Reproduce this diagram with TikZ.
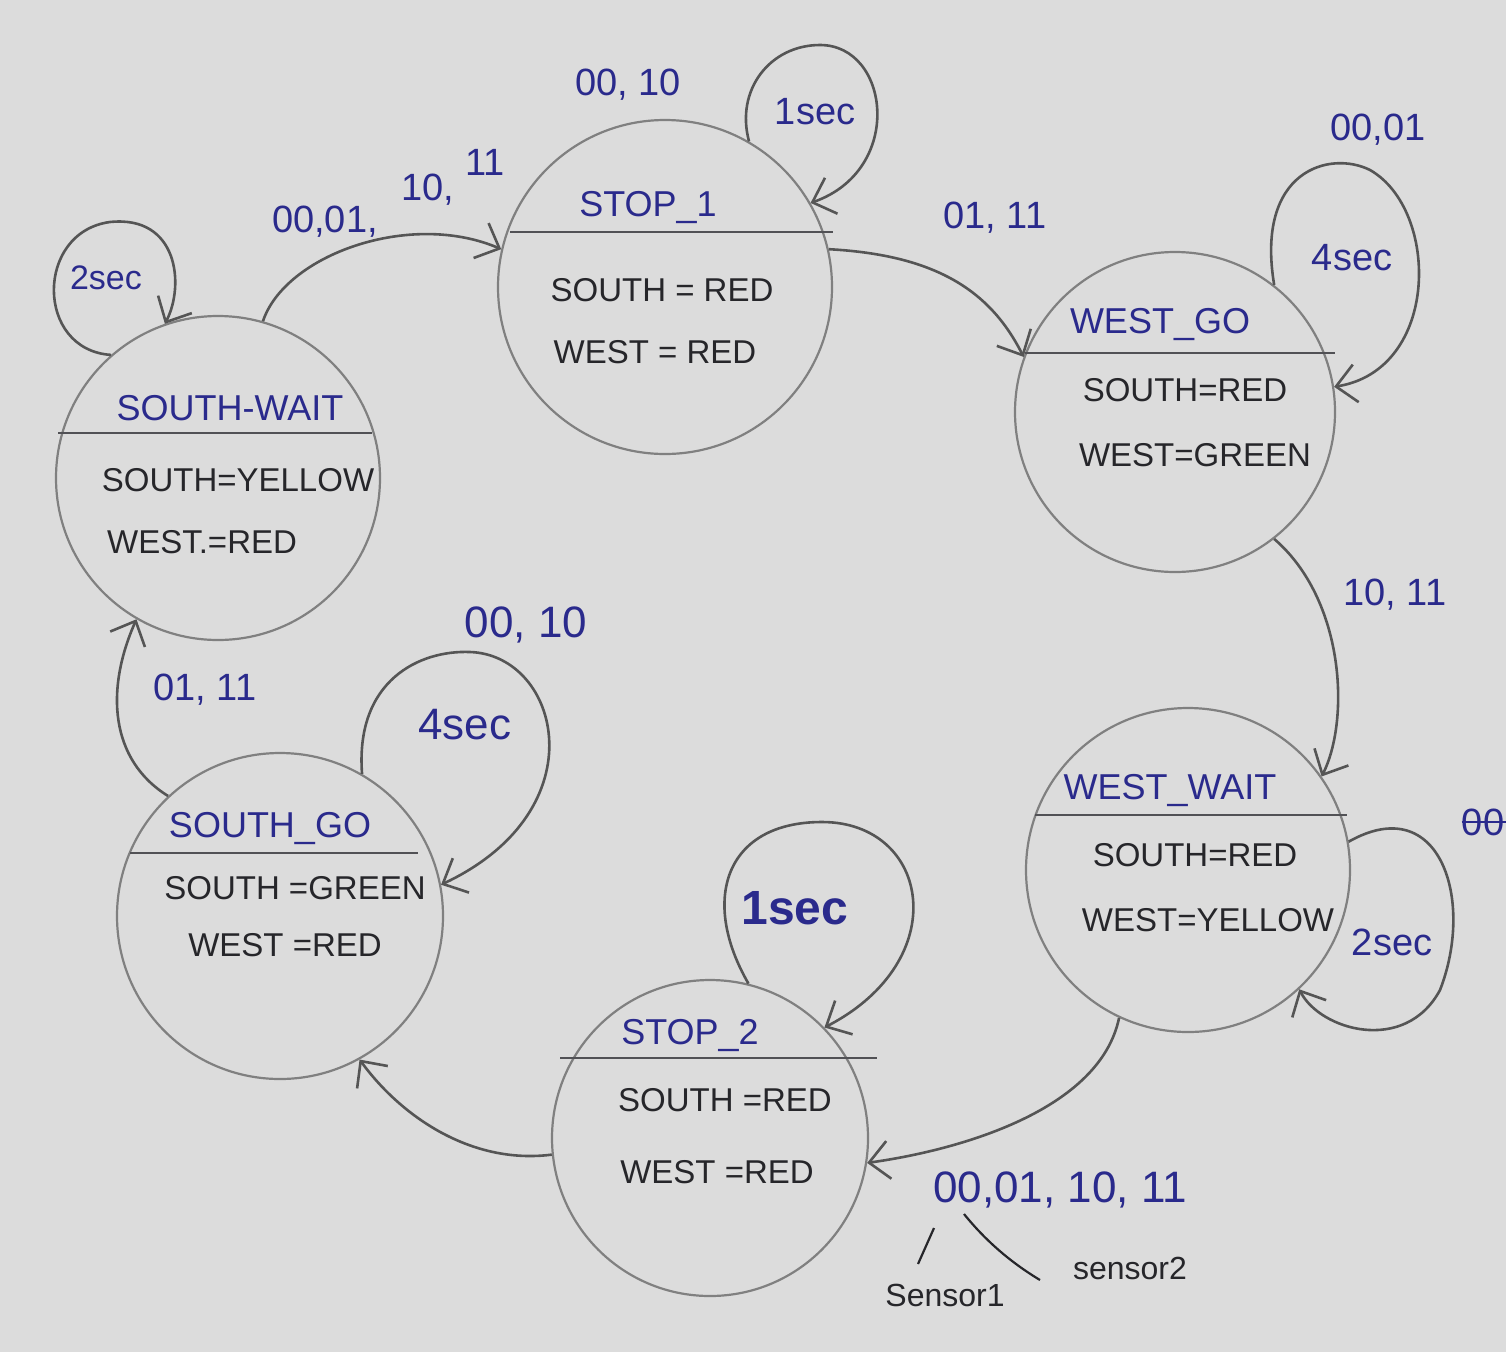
\documentclass[tikz,border=0pt]{standalone}
\usepackage{fontspec}
\setmainfont{Liberation Sans}
\usetikzlibrary{arrows.meta}
\definecolor{paper}{RGB}{220,220,220}
\definecolor{ink}{RGB}{42,42,140}
\definecolor{pen}{RGB}{38,38,42}
\definecolor{pencil}{RGB}{128,128,128}
\definecolor{edgec}{RGB}{85,85,85}
\tikzset{
  x=1pt, y=-1pt,
  stateC/.style={circle, draw=pencil, line width=2.2pt, inner sep=0pt},
  divider/.style={draw=pen!80, line width=2.6pt},
  title/.style={text=ink, font=\fontsize{36}{40}\selectfont, inner sep=0pt},
  body/.style={text=pen, font=\fontsize{33}{38}\selectfont, inner sep=0pt},
  lbl/.style={text=ink, font=\fontsize{38}{42}\selectfont, inner sep=0pt},
  note/.style={text=pen, font=\fontsize{32}{36}\selectfont, inner sep=0pt},
  edge/.style={draw=edgec, line width=2.6pt, -{Straight Barb[length=20pt,width=38pt,line width=2.6pt]}},
  thin/.style={draw=pen, line width=2.2pt}
}
\begin{document}
\begin{tikzpicture}
\fill[paper] (0,0) rectangle (1506,1352);
\useasboundingbox (0,0) rectangle (1506,1352);

% ---------- states ----------
\node[stateC, minimum size=334pt] (s1) at (665,287) {};
\node[stateC, minimum size=320pt] (wg) at (1175,412) {};
\node[stateC, minimum size=324pt] (ww) at (1188,870) {};
\node[stateC, minimum size=316pt] (s2) at (710,1138) {};
\node[stateC, minimum size=326pt] (sg) at (280,916) {};
\node[stateC, minimum size=324pt] (sw) at (218,478) {};

\draw[divider] (510,232) -- (833,232);
\draw[divider] (1025,353) -- (1335,353);
\draw[divider] (1035,815) -- (1347,815);
\draw[divider] (560,1058) -- (877,1058);
\draw[divider] (130,853) -- (418,853);
\draw[divider] (58,433) -- (372,433);

\node[title] (s1t) at (648,208) {STOP\_1};
\node[body] (s1a) at (662,290) {SOUTH = RED};
\node[body] (s1b) at (655,352) {WEST = RED};

\node[title] (wgt) at (1160,325) {WEST\_GO};
\node[body] (wga) at (1185,390) {SOUTH=RED};
\node[body] (wgb) at (1195,455) {WEST=GREEN};

\node[title] (wwt) at (1170,790) {WEST\_WAIT};
\node[body] (wwa) at (1195,855) {SOUTH=RED};
\node[body] (wwb) at (1208,920) {WEST=YELLOW};

\node[title] (s2t) at (690,1035) {STOP\_2};
\node[body] (s2a) at (725,1100) {SOUTH =RED};
\node[body] (s2b) at (717,1172) {WEST =RED};

\node[title] (sgt) at (270,828) {SOUTH\_GO};
\node[body] (sga) at (295,888) {SOUTH =GREEN};
\node[body] (sgb) at (285,945) {WEST =RED};

\node[title] (swt) at (230,408) {SOUTH-WAIT};
\node[body] (swa) at (238,480) {SOUTH=YELLOW};
\node[body] (swb) at (202,542) {WEST.=RED};

% ---------- transitions ----------
\draw[edge] (sw.74) .. controls (285,255) and (410,210) .. (s1.167);
\draw[edge] (s1.13) .. controls (935,255) and (990,290) .. (wg.160);
\draw[edge] (wg.-52) .. controls (1345,600) and (1350,720) .. (ww.35);
\draw[edge] (ww.-115) .. controls (1100,1110) and (960,1150) .. (s2.-9);
\draw[edge] (s2.186) .. controls (470,1165) and (400,1115) .. (sg.-61);
\draw[edge] (sg.133) .. controls (110,760) and (105,690) .. (sw.-120);

% ---------- self loops ----------
\draw[edge] (s1.60) .. controls (735,90) and (770,45) .. (820,45) .. controls (890,45) and (905,170) .. (s1.30);
\draw[edge] (wg.52) .. controls (1255,170) and (1330,150) .. (1370,170) .. controls (1440,210) and (1440,370) .. (wg.9);
\draw[edge] (ww.10) .. controls (1440,790) and (1475,900) .. (1440,990) .. controls (1405,1055) and (1320,1030) .. (ww.-47);
\draw[edge] (s2.76) .. controls (700,900) and (725,822) .. (822,822) .. controls (930,822) and (955,960) .. (s2.44);
\draw[edge] (sg.60) .. controls (355,680) and (420,650) .. (470,652) .. controls (560,655) and (600,810) .. (sg.11);
\draw[edge] (sw.131) .. controls (35,350) and (35,232) .. (110,222) .. controls (178,215) and (185,285) .. (sw.109);

% ---------- labels ----------
\node[lbl] (l1a) at (325,222) {00,01,};
\node[lbl] (l1b) at (428,190) {10,};
\node[lbl] (l1c) at (485,162) {11};
\node[lbl] (l2) at (628,85) {00, 10};
\node[lbl] (l3) at (815,112) {1sec};
\node[lbl] (l4) at (995,218) {01, 11};
\node[lbl] (l5) at (1378,130) {00,01};
\node[lbl] (l6) at (1352,258) {4sec};
\node[lbl] (l7) at (1395,595) {10, 11};
\node[lbl] (l8) at (1392,942) {2sec};
\node[lbl] (l9) at (1483,822) {00};
\draw[draw=ink, line width=2.4pt] (l9.west) -- (1506,822);
\node[lbl, font=\fontsize{44}{48}\selectfont] (l10) at (1060,1190) {00,01, 10, 11};
\node[lbl, font=\fontsize{48}{52}\selectfont\bfseries] (l11) at (795,908) {1sec};
\node[lbl, font=\fontsize{44}{48}\selectfont] (l12) at (465,725) {4sec};
\node[lbl, font=\fontsize{44}{48}\selectfont] (l13) at (526,625) {00, 10};
\node[lbl] (l14) at (205,690) {01, 11};
\node[lbl, font=\fontsize{34}{38}\selectfont] (l15) at (106,278) {2sec};

\node[note] (sens1) at (945,1295) {Sensor1};
\node[note] (sens2) at (1130,1268) {sensor2};
\coordinate (z1) at (934,1228);
\coordinate (z2) at (918,1264);
\coordinate (z3) at (964,1214);
\coordinate (z4) at (1040,1280);
\draw[thin] (z1) -- (z2);
\draw[thin] (z3) .. controls (985,1240) and (1010,1262) .. (z4);
\end{tikzpicture}
\end{document}
